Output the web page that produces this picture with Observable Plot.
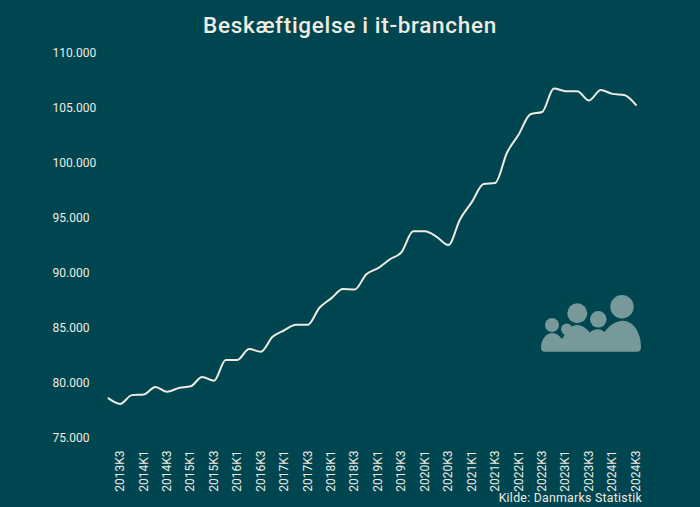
<!DOCTYPE html>
<html lang="da">
<head>
<meta charset="utf-8">
<script src="https://cdn.jsdelivr.net/npm/d3@7"></script>
<script src="https://cdn.jsdelivr.net/npm/@observablehq/plot@0.6"></script>
<style>
html,body{margin:0;padding:0;background:#004651;width:700px;height:507px;overflow:hidden;position:relative;font-family:Roboto,sans-serif;color:#f0ebe0}
h1{margin:0;height:40px;line-height:50px;font-size:22.5px;font-weight:500;text-align:center;letter-spacing:.68px}
#chart svg{display:block;background:transparent}
#src{position:absolute;right:58px;top:490px;font-size:12.3px;letter-spacing:.27px;line-height:16px}
</style>
</head>
<body>
<h1>Beskæftigelse i it-branchen</h1>
<div id="chart"></div>
<div id="src">Kilde: Danmarks Statistik</div>
<script>
const quarters = ["2013K2","2013K3","2013K4","2014K1","2014K2","2014K3","2014K4","2015K1","2015K2","2015K3","2015K4","2016K1","2016K2","2016K3","2016K4","2017K1","2017K2","2017K3","2017K4","2018K1","2018K2","2018K3","2018K4","2019K1","2019K2","2019K3","2019K4","2020K1","2020K2","2020K3","2020K4","2021K1","2021K2","2021K3","2021K4","2022K1","2022K2","2022K3","2022K4","2023K1","2023K2","2023K3","2023K4","2024K1","2024K2","2024K3"];
const employed = [78600,78100,78900,78950,79650,79200,79550,79700,80550,80200,82100,82100,83100,82850,84200,84800,85300,85300,86850,87700,88550,88500,89900,90450,91250,91900,93800,93800,93300,92550,94900,96450,98100,98200,100950,102600,104450,104650,106800,106550,106550,105700,106650,106300,106200,105300];
const xTicks = ["2013K3","2014K1","2014K3","2015K1","2015K3","2016K1","2016K3","2017K1","2017K3","2018K1","2018K3","2019K1","2019K3","2020K1","2020K3","2021K1","2021K3","2022K1","2022K3","2023K1","2023K3","2024K1","2024K3"];
const yTicks = [75000,80000,85000,90000,95000,100000,105000,110000];
const table = quarters.map((q,i)=>({q,v:employed[i]}));
const ink = "#f0ebe0";
const fmt = d3.formatLocale({decimal:",",thousands:".",grouping:[3],currency:["","kr"]}).format(",d");

// people pictogram, placed in page pixels minus the 40px title block
function icon(){
  const g = d3.create("svg:g").attr("fill",ink).attr("opacity",0.5).attr("transform","translate(0,-40)");
  const heads = [[552,325,7],[577.3,313.3,10],[598.3,319.3,8.3],[622,306.7,11.7],[566.7,329.3,5.7]];
  for(const [cx,cy,r] of heads) g.append("circle").attr("cx",cx).attr("cy",cy).attr("r",r);
  g.append("path").attr("d",[
    "M545 351.7H637Q641 351.7 641 347C641 332 633 320.7 623 320.7C615 320.7 609 326 604.5 332",
    "C602 330 600 329.3 598 329.3C595 329.3 592 330.5 590 332.5",
    "C586 328 582 325 577 325C573 325 569 328 566 332 C565 333 564 337 562 339",
    "C559 335 556 333 552.5 333C546 333 541 340 541 347.5Q541 351.7 545 351.7Z"].join(""));
  return g.node();
}

const plot = Plot.plot({
  width:700, height:467,
  marginLeft:108, marginRight:64.6, marginTop:12.7, marginBottom:69.5,
  style:{background:"transparent",color:ink,fontFamily:"Roboto,sans-serif",fontSize:"12px"},
  x:{type:"point",domain:quarters,padding:0,label:null},
  y:{domain:[75000,110000],label:null},
  marks:[
    Plot.axisY({ticks:yTicks,tickFormat:fmt,tickSize:0,tickPadding:56,textAnchor:"start",label:null,fill:ink,fontSize:12}),
    Plot.axisX({ticks:xTicks,tickSize:0,tickPadding:12.5,tickRotate:-90,label:null,fill:ink,fontSize:12}),
    Plot.line(table,{x:"q",y:"v",stroke:ink,strokeWidth:2,curve:"monotone-x"}),
    icon
  ]
});
document.getElementById("chart").append(plot);
</script>
</body>
</html>
